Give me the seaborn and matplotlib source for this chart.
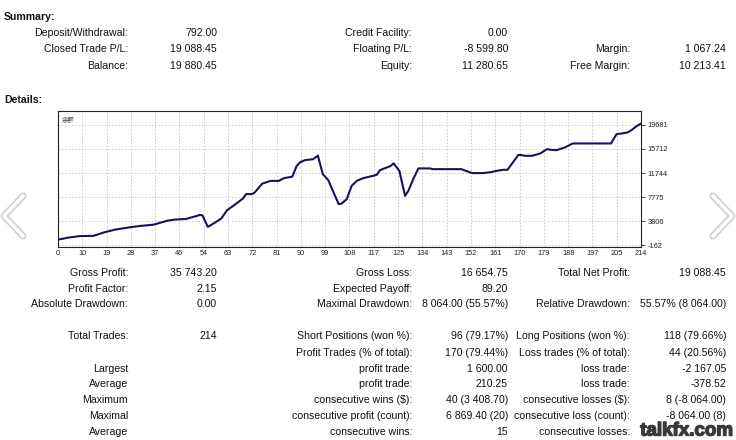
import numpy as np
import pandas as pd
import matplotlib
matplotlib.use("Agg")
import matplotlib.pyplot as plt
import matplotlib.patheffects as pe
from matplotlib.lines import Line2D
import seaborn as sns

# balance curve (trade number, balance)
trades = [0, 4, 8, 13, 17, 21, 26, 30, 35, 37, 40, 43, 47, 51, 52, 53, 55, 58, 60, 62,
          66, 68, 69, 71, 72, 75, 78, 81, 83, 86, 87.6, 88.8, 90.7, 93.7, 95, 95.4, 97.2,
          99.2, 103, 104, 106, 107.8, 109.7, 112, 115.7, 117, 118.2, 122, 123.2, 125.3,
          127.4, 128.6, 130.4, 132.3, 136.6, 137.5, 148, 152, 156, 159, 161, 163.5, 165,
          169, 170, 171.5, 174, 177, 179.5, 181, 183, 186, 189, 203, 205, 207, 209, 210.5,
          212, 214]
balance = [800, 1150, 1380, 1420, 2000, 2450, 2800, 3040, 3250, 3500, 3900, 4100, 4200,
           4700, 4850, 4800, 2900, 3700, 4300, 5600, 6900, 7600, 8280, 8280, 8450, 10000,
           10450, 10450, 10900, 11150, 12900, 13480, 13860, 14020, 14470, 14600, 11560,
           10580, 6650, 6700, 7460, 9650, 10460, 10900, 11280, 11450, 12220, 12880, 13320,
           12100, 8000, 8820, 10740, 12500, 12500, 12380, 12380, 11730, 11730, 11890, 12100,
           12270, 12270, 14730, 14700, 14570, 14570, 14950, 15660, 15550, 15500, 15940,
           16600, 16600, 18120, 18250, 18400, 18780, 19320, 19880]

x_tick_labels = ["0", "10", "19", "28", "37", "46", "54", "63", "72", "81", "90", "99",
                 "108", "117", "125", "134", "143", "152", "161", "170", "179", "188",
                 "197", "205", "214"]
y_ticks = [-162, 3806, 7775, 11744, 15712, 19681]

summary_rows = [
    ["Deposit/Withdrawal:", "792.00", "Credit Facility:", "0.00", "", ""],
    ["Closed Trade P/L:", "19 088.45", "Floating P/L:", "-8 599.80", "Margin:", "1 067.24"],
    ["Balance:", "19 880.45", "Equity:", "11 280.65", "Free Margin:", "10 213.41"],
]
detail_rows = [
    ["Gross Profit:", "35 743.20", "Gross Loss:", "16 654.75", "Total Net Profit:", "19 088.45"],
    ["Profit Factor:", "2.15", "Expected Payoff:", "89.20", "", ""],
    ["Absolute Drawdown:", "0.00", "Maximal Drawdown:", "8 064.00 (55.57%)",
     "Relative Drawdown:", "55.57% (8 064.00)"],
    ["Total Trades:", "214", "Short Positions (won %):", "96 (79.17%)",
     "Long Positions (won %):", "118 (79.66%)"],
    ["", "", "Profit Trades (% of total):", "170 (79.44%)",
     "Loss trades (% of total):", "44 (20.56%)"],
    ["Largest", "", "profit trade:", "1 600.00", "loss trade:", "-2 167.05"],
    ["Average", "", "profit trade:", "210.25", "loss trade:", "-378.52"],
    ["Maximum", "", "consecutive wins ($):", "40 (3 408.70)",
     "consecutive losses ($):", "8 (-8 064.00)"],
    ["Maximal", "", "consecutive profit (count):", "6 869.40 (20)",
     "consecutive loss (count):", "-8 064.00 (8)"],
    ["Average", "", "consecutive wins:", "15", "consecutive losses:", ""],
]

W, H = 736, 440
sns.set_style("white")
plt.rcParams["font.family"] = ["Liberation Sans", "DejaVu Sans"]

fig = plt.figure(figsize=(W / 100, H / 100), dpi=100)
fig.patch.set_facecolor("white")


def fx(px):
    return px / W


def fy(py):
    return 1 - py / H


TXT = "#111111"
FS = 7.6
col_right = [128, 217, 412, 508, 630, 726]


def put_rows(rows, ys):
    for row, y in zip(rows, ys):
        for txt, xr in zip(row, col_right):
            if txt:
                fig.text(fx(xr), fy(y), txt, ha="right", va="center",
                         fontsize=FS, color=TXT)


fig.text(fx(4), fy(17), "Summary:", ha="left", va="center", fontsize=FS,
         fontweight="bold", color=TXT)
put_rows(summary_rows, [33, 49.5, 65.5])
fig.text(fx(4), fy(100), "Details:", ha="left", va="center", fontsize=FS,
         fontweight="bold", color=TXT)
put_rows(detail_rows, [273, 289, 304, 336, 352.5, 368.5, 384, 400, 416, 432])

# balance chart
ax = fig.add_axes([fx(58), fy(247), fx(583), 136 / H])
df = pd.DataFrame({"trade": trades, "balance": balance})
sns.lineplot(data=df, x="trade", y="balance", ax=ax, color="#14145a", linewidth=1.5)
ax.set_xlim(0, 214)
ax.set_ylim(-410, 21930)
ax.set_xticks(np.arange(25) * 214 / 24)
ax.set_xticklabels(x_tick_labels)
ax.set_yticks(y_ticks)
ax.set_yticklabels([str(v) for v in y_ticks])
ax.yaxis.tick_right()
ax.tick_params(axis="x", length=0, pad=2.5, labelsize=5.3, colors="#222222")
ax.tick_params(axis="y", length=3, width=0.6, pad=1.5, labelsize=5.3, colors="#222222")
ax.set_xlabel("")
ax.set_ylabel("")
ax.grid(True, color="#c4c4c4", linestyle=(0, (2, 2)), linewidth=0.6)
for s in ax.spines.values():
    s.set_visible(True)
    s.set_color("#222222")
    s.set_linewidth(0.8)
ax.text(0.006, 0.96, "余额", transform=ax.transAxes, ha="left", va="top",
        fontsize=4.6, color="#333333", family=["Noto Sans CJK SC", "DejaVu Sans"])

# navigation chevrons
for pts in ([(23, 196), (4, 216), (23, 236)], [(713, 196), (732, 216), (713, 236)]):
    xs = [fx(p[0]) for p in pts]
    ys = [fy(p[1]) for p in pts]
    fig.add_artist(Line2D(xs, ys, transform=fig.transFigure, color="#cfcfcf",
                          linewidth=5, solid_capstyle="round", solid_joinstyle="round"))
    fig.add_artist(Line2D(xs, ys, transform=fig.transFigure, color="white",
                          linewidth=2.6, solid_capstyle="round", solid_joinstyle="round"))

# watermark
fig.text(fx(733), fy(431), "talkfx.com", ha="right", va="center", fontsize=13.5,
         fontweight="bold", color="#3a3a3a",
         path_effects=[pe.Stroke(linewidth=3.2, foreground="white"),
                       pe.Stroke(linewidth=1.0, foreground="#3a3a3a"),
                       pe.Normal()])

fig.savefig("out.png", dpi=100, facecolor="white")
plt.close(fig)
